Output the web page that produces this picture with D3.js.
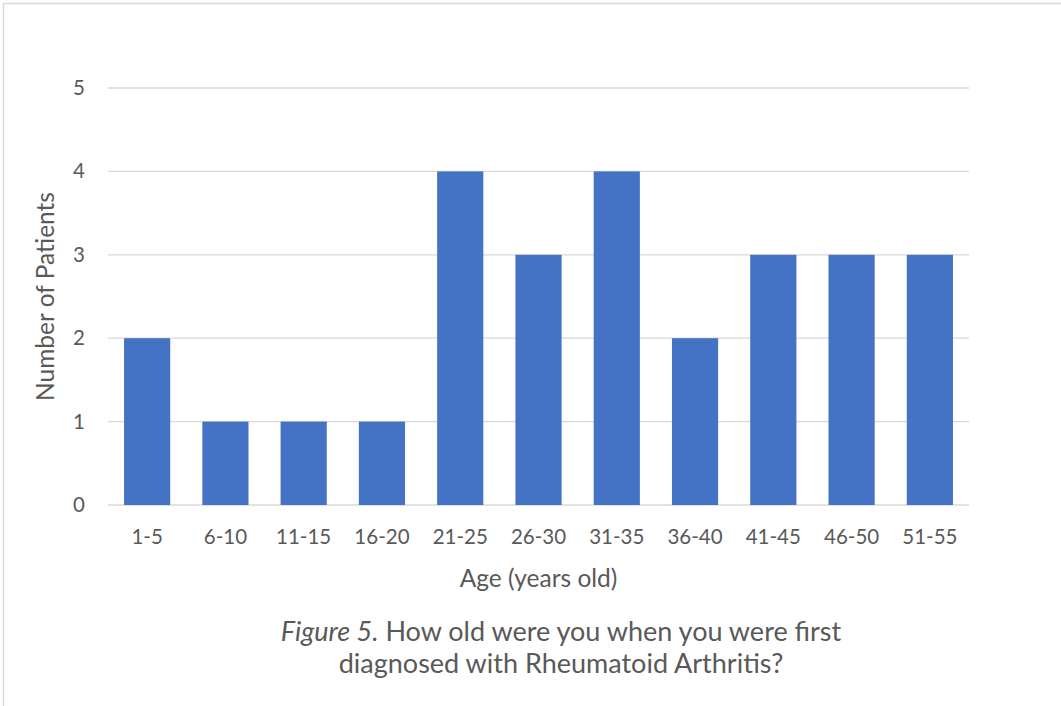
<!DOCTYPE html>
<html>
<head>
<meta charset="utf-8">
<script src="https://cdn.jsdelivr.net/npm/d3@7/dist/d3.min.js"></script>
<style>
  html, body { margin: 0; padding: 0; background: #fff; }
  svg { display: block; }
  text { font-family: Lato, "Open Sans", sans-serif; fill: #595959; }
</style>
</head>
<body>
<svg id="chart" width="1061" height="706"></svg>
<script>
const categories = ["1-5", "6-10", "11-15", "16-20", "21-25", "26-30", "31-35", "36-40", "41-45", "46-50", "51-55"];
const values = [2, 1, 1, 1, 4, 3, 4, 2, 3, 3, 3];
const yTicks = [0, 1, 2, 3, 4, 5];
const xTitle = "Age (years old)";
const yTitle = "Number of Patients";
const captionItalic = "Figure 5.";
const captionLine1 = " How old were you when you were first";
const captionLine2 = "diagnosed with Rheumatoid Arthritis?";

const svg = d3.select("#chart");

// outer border (chart area frame)
svg.append("rect")
  .attr("x", 3.5).attr("y", 3.5)
  .attr("width", 1200).attr("height", 900)
  .attr("fill", "none").attr("stroke", "#d9d9d9").attr("stroke-width", 1.5);

const margin = { left: 108, right: 969, top: 88, bottom: 505 };

const x = d3.scaleBand()
  .domain(categories)
  .range([margin.left, margin.right])
  .paddingInner(0.41)
  .paddingOuter(0.205);

const y = d3.scaleLinear()
  .domain([0, 5])
  .range([margin.bottom, margin.top]);

// gridlines
svg.append("g")
  .selectAll("line")
  .data(yTicks)
  .join("line")
  .attr("x1", margin.left).attr("x2", margin.right)
  .attr("y1", d => y(d)).attr("y2", d => y(d))
  .attr("stroke", "#d9d9d9").attr("stroke-width", 1.3);

// bars
svg.append("g")
  .selectAll("rect")
  .data(categories.map((c, i) => ({ c, v: values[i] })))
  .join("rect")
  .attr("x", d => x(d.c))
  .attr("width", x.bandwidth())
  .attr("y", d => y(d.v))
  .attr("height", d => y(0) - y(d.v))
  .attr("fill", "#4472C4");

// y axis tick labels
const yAxis = d3.axisLeft(y).tickValues(yTicks).tickSize(0).tickPadding(0).tickFormat(d3.format("d"));
const gy = svg.append("g").attr("transform", `translate(${85},0)`).call(yAxis);
gy.select(".domain").remove();
gy.selectAll("text").style("font-size", "20.5px").attr("fill", "#595959").style("font-family", "Lato, sans-serif");

// x axis tick labels
const xAxis = d3.axisBottom(x).tickSize(0).tickPadding(0);
const gx = svg.append("g").attr("transform", `translate(0,${529})`).call(xAxis);
gx.select(".domain").remove();
gx.selectAll("text").style("font-size", "20.5px").attr("fill", "#595959").style("font-family", "Lato, sans-serif");

// axis titles
svg.append("text")
  .attr("x", (margin.left + margin.right) / 2).attr("y", 587)
  .attr("text-anchor", "middle")
  .style("font-size", "24.5px")
  .text(xTitle);

svg.append("text")
  .attr("transform", `translate(54,${(margin.top + margin.bottom) / 2}) rotate(-90)`)
  .attr("text-anchor", "middle")
  .style("font-size", "24.5px")
  .text(yTitle);

// caption
const cap1 = svg.append("text")
  .attr("x", 561).attr("y", 641)
  .attr("text-anchor", "middle")
  .style("font-size", "27px");
cap1.append("tspan").style("font-style", "italic").text(captionItalic);
cap1.append("tspan").text(captionLine1);

svg.append("text")
  .attr("x", 561).attr("y", 673)
  .attr("text-anchor", "middle")
  .style("font-size", "27px")
  .text(captionLine2);
</script>
</body>
</html>
